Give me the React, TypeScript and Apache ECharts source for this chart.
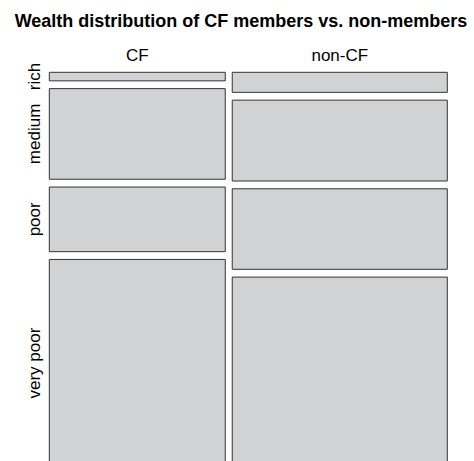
import React, { useEffect, useRef } from "react";
import * as echarts from "echarts";

const title = "Wealth distribution of CF members vs. non-members";
const columns = ["CF", "non-CF"];
const rows = ["rich", "medium", "poor", "very poor"];
// share of all respondents in each column (%)
const columnShare = [45, 55];
// share of each wealth class within each column (%)
const cfShare = [2.3, 24.4, 17.4, 55.8];
const nonCfShare = [5.4, 21.8, 21.7, 51.1];

const gapX = 0.0179;
const gapY = 0.021;
// the plot runs past the bottom edge of the picture: visible part of the y range
const yVisibleMax = 1.0477;

type Cell = { col: number; row: number; x0: number; x1: number; y0: number; y1: number };

function buildCells(): Cell[] {
  const shares = [cfShare, nonCfShare];
  const colTotal = columnShare.reduce((a, b) => a + b, 0);
  const cells: Cell[] = [];
  let xc = 0;
  columns.forEach((_, j) => {
    const w = columnShare[j] / colTotal;
    const x0 = xc + j * gapX;
    const x1 = x0 + w;
    xc += w;
    const s = shares[j];
    const tot = s.reduce((a, b) => a + b, 0);
    let yc = 0;
    rows.forEach((_, i) => {
      const h = s[i] / tot;
      const y0 = yc + i * gapY;
      const y1 = y0 + h;
      yc += h;
      cells.push({ col: j, row: i, x0, x1, y0, y1 });
    });
  });
  return cells;
}

export default function App() {
  const ref = useRef<HTMLDivElement>(null);
  useEffect(() => {
    document.body.style.margin = "0";
    if (!ref.current) return;
    const chart = echarts.init(ref.current, null, { renderer: "svg" });
    const cells = buildCells();
    const font = "'Liberation Sans', Arial, Helvetica, sans-serif";
    const colCells = columns.map((_, j) => cells.filter((c) => c.col === j)[0]);
    const rowCells = rows.map((_, i) => cells.filter((c) => c.col === 0 && c.row === i)[0]);
    chart.setOption({
      animation: false,
      backgroundColor: "#ffffff",
      grid: { left: 49.3, top: 72.3, width: 398, height: 388.7 },
      xAxis: { type: "value", min: 0, max: 1 + gapX, show: false },
      yAxis: { type: "value", min: 0, max: yVisibleMax, inverse: true, show: false },
      graphic: [
        {
          type: "text",
          x: 241,
          y: 21,
          style: {
            text: title,
            font: "bold 18px " + font,
            fill: "#000",
            textAlign: "center",
            textVerticalAlign: "middle",
          },
        },
      ],
      series: [
        {
          type: "custom",
          coordinateSystem: "cartesian2d",
          clip: false,
          data: cells.map((c) => [c.x0, c.y0, c.x1, c.y1]),
          renderItem: (params: any, api: any) => {
            const p0 = api.coord([api.value(0), api.value(1)]);
            const p1 = api.coord([api.value(2), api.value(3)]);
            return {
              type: "rect",
              shape: { x: p0[0], y: p0[1], width: p1[0] - p0[0], height: p1[1] - p0[1] },
              style: { fill: "#d1d2d4", stroke: "#333333", lineWidth: 1 },
            };
          },
        },
        {
          type: "custom",
          coordinateSystem: "cartesian2d",
          data: colCells.map((c, j) => [(c.x0 + c.x1) / 2, 0, j]),
          renderItem: (params: any, api: any) => {
            const p = api.coord([api.value(0), api.value(1)]);
            return {
              type: "text",
              x: p[0],
              y: 55,
              style: {
                text: columns[api.value(2)],
                font: "17px " + font,
                fill: "#000",
                textAlign: "center",
                textVerticalAlign: "middle",
              },
            };
          },
        },
        {
          type: "custom",
          coordinateSystem: "cartesian2d",
          data: rowCells.map((c, i) => [0, (c.y0 + c.y1) / 2, i]),
          renderItem: (params: any, api: any) => {
            const p = api.coord([api.value(0), api.value(1)]);
            return {
              type: "text",
              x: 34,
              y: p[1],
              rotation: Math.PI / 2,
              style: {
                text: rows[api.value(2)],
                font: "17px " + font,
                fill: "#000",
                textAlign: "center",
                textVerticalAlign: "middle",
              },
            };
          },
        },
      ],
    });
    return () => chart.dispose();
  }, []);
  return <div ref={ref} style={{ width: 474, height: 461 }} />;
}
